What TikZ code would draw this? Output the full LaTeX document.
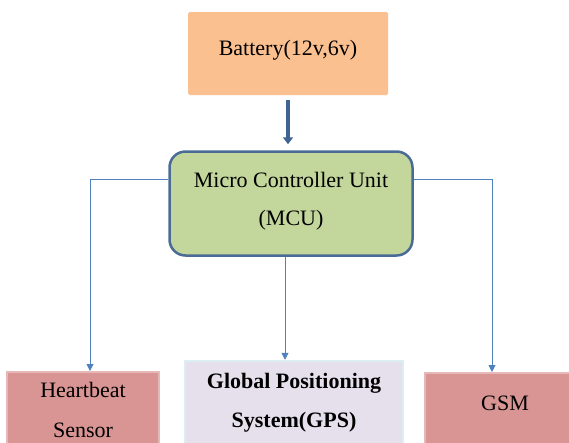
\documentclass[tikz,border=0pt]{standalone}
\usepackage{fontspec}
\setmainfont{Liberation Serif}
\usepackage{tikz}
\usetikzlibrary{arrows.meta,calc}
\definecolor{BatteryOrange}{HTML}{FAC090}
\definecolor{McuGreen}{HTML}{C3D69B}
\definecolor{McuBorder}{HTML}{4A6B95}
\definecolor{SensorRed}{HTML}{D99594}
\definecolor{SensorBorder}{HTML}{E6B9B8}
\definecolor{GpsLilac}{HTML}{E5E0EC}
\definecolor{GpsBorder}{HTML}{DAEEF3}
\definecolor{LinkBlue}{HTML}{4F81BD}
\definecolor{PowerBlue}{HTML}{3F6494}

\begin{document}
\begin{tikzpicture}[x=1pt,y=-1pt,
    box/.style={align=center,inner sep=0pt,font=\fontsize{22}{40}\selectfont},
    link/.style={draw=LinkBlue,line width=0.9pt,-{Triangle[width=7pt,length=7pt]}}]
    \useasboundingbox (0,0) rectangle (569,442);
    \clip (0,0) rectangle (569,442);
    % supply and controller
    \node[box,fill=BatteryOrange,rounded corners=1.5pt,minimum width=200pt,minimum height=83pt,
        text depth=12pt]
        (bat) at (288,53.5) {Battery(12v,6v)};
    \node[box,fill=McuGreen,draw=McuBorder,line width=2.5pt,rounded corners=16pt,
        minimum width=243pt,minimum height=104pt,font=\fontsize{22}{38}\selectfont,text depth=9pt]
        (mcu) at (291,203.5) {Micro Controller Unit\\(MCU)};
    % modules on the bottom row
    \node[box,fill=SensorRed,draw=SensorBorder,line width=2pt,minimum width=152pt,minimum height=84pt,
        text depth=8pt]
        (heart) at (83,414) {Heartbeat\\Sensor};
    \node[box,fill=GpsLilac,draw=GpsBorder,line width=2.5pt,minimum width=218pt,minimum height=84pt,
        font=\fontsize{22}{39}\selectfont\bfseries]
        (gps) at (294,403) {Global Positioning\\System(GPS)};
    \node[box,fill=SensorRed,draw=SensorBorder,line width=2pt,minimum width=160pt,minimum height=84pt,
        text depth=24pt]
        (gsm) at (505,415) {GSM};
    % connections
    \draw[draw=PowerBlue,line width=3.5pt,-{Triangle[width=10pt,length=7pt]},
        shorten <=5pt,shorten >=6pt] (bat.south) -- (mcu.north -| bat.south);
    \draw[link] (mcu.west) ++(0,-24) -| ([xshift=7pt]heart.north);
    \draw[link] (mcu.east) ++(0,-24) -| ([xshift=-13pt]gsm.north);
    \draw[link] ([xshift=-6pt]mcu.south) -- ([xshift=-6pt]mcu.south |- gps.north);
\end{tikzpicture}
\end{document}
